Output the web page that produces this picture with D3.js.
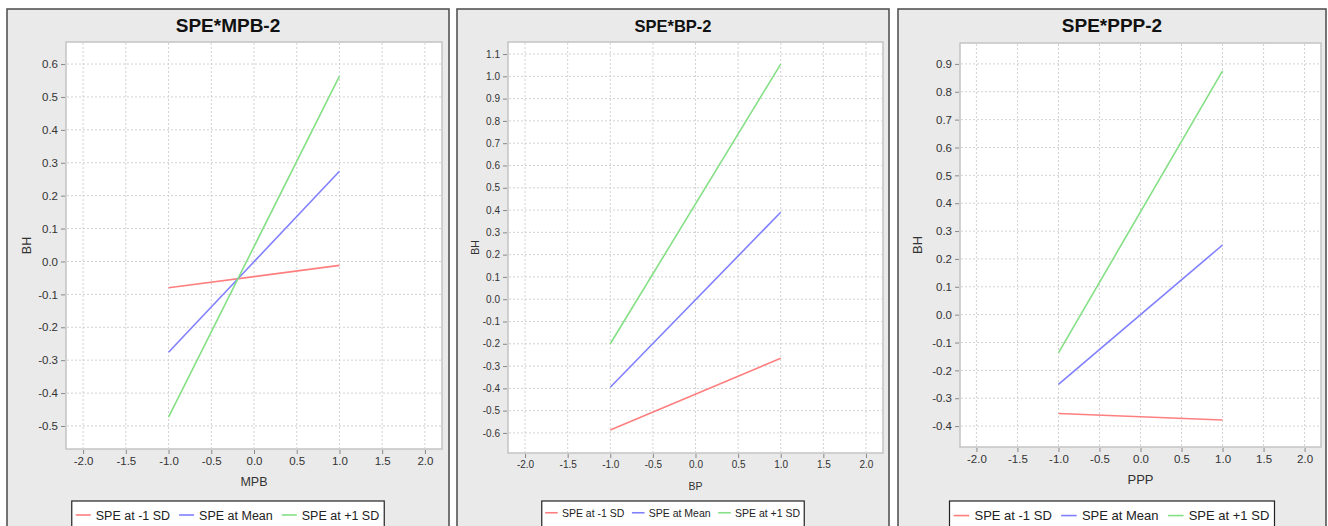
<!DOCTYPE html>
<html>
<head>
    <meta charset="utf-8">
    <title>SPE interaction plots</title>
    <script src="https://d3js.org/d3.v7.min.js"></script>
    <style>
        body {
            margin: 0;
            background-color: #FFFFFF;
            font-family: "Liberation Sans", Arial, sans-serif;
        }
        .grid line {
            stroke: #d2d2d2;
            stroke-dasharray: 2,2;
        }
        .tick text {
            fill: #333;
        }
        .tick line {
            stroke: #888;
        }
    </style>
</head>
<body>
    <div id="charts"></div>

    <script>
        // Data
        var xPoints = [-1, 1];
        var xTicks = [-2.0, -1.5, -1.0, -0.5, 0.0, 0.5, 1.0, 1.5, 2.0];
        var seriesNames = ["SPE at -1 SD", "SPE at Mean", "SPE at +1 SD"];
        var seriesColors = ["#ff7f7f", "#8080ff", "#85e085"];

        var panelTitles = ["SPE*MPB-2", "SPE*BP-2", "SPE*PPP-2"];
        var xLabels = ["MPB", "BP", "PPP"];
        var yLabel = "BH";

        // one row per series, values at x = -1 and x = 1
        var mpbValues = [[-0.080, -0.012], [-0.276, 0.274], [-0.473, 0.563]];
        var bpValues = [[-0.587, -0.265], [-0.395, 0.390], [-0.200, 1.055]];
        var pppValues = [[-0.355, -0.378], [-0.250, 0.250], [-0.137, 0.875]];

        var mpbTicks = [-0.5, -0.4, -0.3, -0.2, -0.1, 0.0, 0.1, 0.2, 0.3, 0.4, 0.5, 0.6];
        var bpTicks = [-0.6, -0.5, -0.4, -0.3, -0.2, -0.1, 0.0, 0.1, 0.2, 0.3, 0.4, 0.5, 0.6, 0.7, 0.8, 0.9, 1.0, 1.1];
        var pppTicks = [-0.4, -0.3, -0.2, -0.1, 0.0, 0.1, 0.2, 0.3, 0.4, 0.5, 0.6, 0.7, 0.8, 0.9];

        var mpbRange = [-0.57, 0.667];
        var bpRange = [-0.69, 1.154];
        var pppRange = [-0.475, 0.975];

        var panelValues = [mpbValues, bpValues, pppValues];
        var panelTicks = [mpbTicks, bpTicks, pppTicks];
        var panelRanges = [mpbRange, bpRange, pppRange];

        // Layout (pixels) of each panel: frame, plot area and font sizes
        var layout = [
            { fx0: 7, fx1: 449, l: 66, t: 42, r: 442, b: 449, bhX: 27,
              title: 19, tick: 11.5, label: 12.5, legend: 12.5 },
            { fx0: 457, fx1: 889, l: 508, t: 42, r: 883, b: 453, bhX: 475,
              title: 16.5, tick: 10, label: 10.5, legend: 10.5 },
            { fx0: 898, fx1: 1326, l: 960, t: 43, r: 1321, b: 447, bhX: 918,
              title: 19, tick: 11.5, label: 13, legend: 13 }
        ];

        var svg = d3.select("#charts")
            .append("svg")
            .attr("width", 1328)
            .attr("height", 526);

        // plain hyphen for negatives, like the original
        var fmt = d3.formatLocale({
            decimal: ".", thousands: ",", grouping: [3], currency: ["", ""], minus: "-"
        }).format(".1f");

        layout.forEach(function(p, i) {
            var g = svg.append("g");

            // Panel frame
            g.append("rect")
                .attr("x", p.fx0)
                .attr("y", 9)
                .attr("width", p.fx1 - p.fx0)
                .attr("height", 540)
                .attr("fill", "#eaeaea")
                .attr("stroke", "#4a4a4a")
                .attr("stroke-width", 1.5);

            // Title
            g.append("text")
                .attr("x", (p.fx0 + p.fx1) / 2)
                .attr("y", 32)
                .attr("text-anchor", "middle")
                .style("font-size", p.title + "px")
                .style("font-weight", "bold")
                .style("fill", "#111")
                .text(panelTitles[i]);

            var x = d3.scaleLinear()
                .domain([-2.2, 2.2])
                .range([p.l, p.r]);

            var y = d3.scaleLinear()
                .domain(panelRanges[i])
                .range([p.b, p.t]);

            // Plot area
            g.append("rect")
                .attr("x", p.l)
                .attr("y", p.t)
                .attr("width", p.r - p.l)
                .attr("height", p.b - p.t)
                .attr("fill", "#ffffff")
                .attr("stroke", "#c4c4c4")
                .attr("stroke-width", 1.5);

            // Grid lines
            g.append("g")
                .attr("class", "grid")
                .selectAll("line.v")
                .data(xTicks)
                .enter().append("line")
                .attr("x1", function(d) { return x(d); })
                .attr("x2", function(d) { return x(d); })
                .attr("y1", p.t + 1)
                .attr("y2", p.b - 1);

            g.append("g")
                .attr("class", "grid")
                .selectAll("line.h")
                .data(panelTicks[i])
                .enter().append("line")
                .attr("x1", p.l + 1)
                .attr("x2", p.r - 1)
                .attr("y1", function(d) { return y(d); })
                .attr("y2", function(d) { return y(d); });

            // Axes
            var xAxis = g.append("g")
                .attr("transform", "translate(0," + (p.b + 1) + ")")
                .call(d3.axisBottom(x).tickValues(xTicks).tickFormat(fmt)
                    .tickSize(4).tickSizeOuter(0).tickPadding(3));
            xAxis.select(".domain").remove();
            xAxis.selectAll("text").style("font-size", p.tick + "px");

            var yAxis = g.append("g")
                .attr("transform", "translate(" + (p.l - 1) + ",0)")
                .call(d3.axisLeft(y).tickValues(panelTicks[i]).tickFormat(fmt)
                    .tickSize(4).tickSizeOuter(0).tickPadding(3));
            yAxis.select(".domain").remove();
            yAxis.selectAll("text").style("font-size", p.tick + "px");

            // Axis labels
            g.append("text")
                .attr("x", (p.l + p.r) / 2)
                .attr("y", p.b + 37)
                .attr("text-anchor", "middle")
                .style("font-size", p.label + "px")
                .style("fill", "#333")
                .text(xLabels[i]);

            g.append("text")
                .attr("transform", "translate(" + (p.bhX + 4) + "," + ((p.t + p.b) / 2) + ") rotate(-90)")
                .attr("text-anchor", "middle")
                .style("font-size", p.label + "px")
                .style("fill", "#333")
                .text(yLabel);

            // Lines
            var line = d3.line()
                .x(function(d, j) { return x(xPoints[j]); })
                .y(function(d) { return y(d); });

            g.selectAll("path.series")
                .data(panelValues[i])
                .enter().append("path")
                .attr("class", "series")
                .attr("d", line)
                .attr("fill", "none")
                .attr("stroke", function(d, j) { return seriesColors[j]; })
                .attr("stroke-width", 1.6);

            // Legend
            var leg = g.append("g");
            var box = leg.append("rect")
                .attr("fill", "#ffffff")
                .attr("stroke", "#222")
                .attr("stroke-width", 1.2);

            var s = p.legend / 12.5;
            var cx = 0;
            seriesNames.forEach(function(name, j) {
                var it = leg.append("g");
                it.append("line")
                    .attr("x1", cx + 4 * s)
                    .attr("x2", cx + 19 * s)
                    .attr("y1", 0)
                    .attr("y2", 0)
                    .attr("stroke", seriesColors[j])
                    .attr("stroke-width", 1.6);
                var t = it.append("text")
                    .attr("x", cx + 24 * s)
                    .attr("y", 4.5 * s)
                    .style("font-size", p.legend + "px")
                    .style("fill", "#222")
                    .text(name);
                cx += 24 * s + t.node().getComputedTextLength() + 5 * s;
            });
            var legW = cx;
            var legX = (p.fx0 + p.fx1) / 2 - legW / 2;
            box.attr("x", 0).attr("y", -14 * s).attr("width", legW).attr("height", 40);
            leg.attr("transform", "translate(" + legX + "," + (501 + 14 * s) + ")");
        });
    </script>
</body>
</html>
